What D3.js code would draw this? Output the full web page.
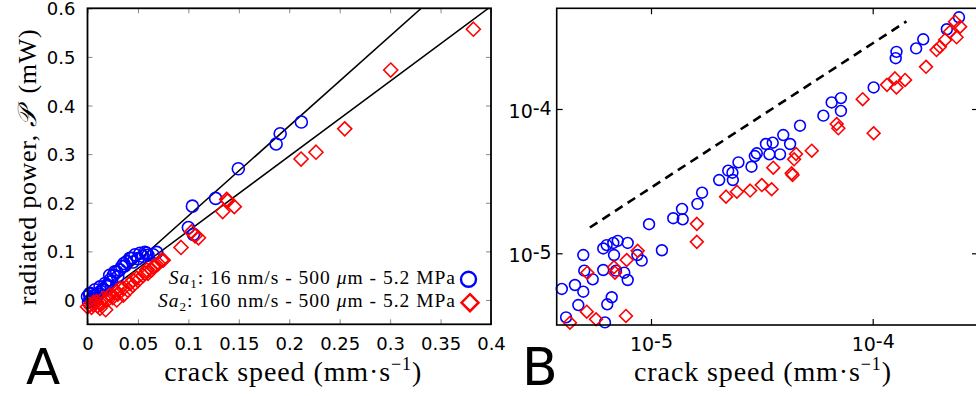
<!DOCTYPE html>
<html><head><meta charset="utf-8">
<script src="https://cdn.jsdelivr.net/npm/d3@7"></script>
<style>
html,body{margin:0;padding:0;background:#fff;}
svg{display:block;}
text{white-space:pre;}
.serif{font-family:"Liberation Serif","Times New Roman",serif;}
.sans{font-family:"DejaVu Sans",sans-serif;}
</style></head>
<body>
<svg id="chart" width="976" height="396"></svg>
<script>
// ---------- Panel A data (crack speed mm/s, radiated power mW) ----------
const sa1SpeedA = [0.001,0.0,0.0025,0.0074,0.0124,0.0173,0.0223,0.0256,0.029,0.034,0.0389,0.0421,0.0471,0.052,0.0587,0.065,0.0686,0.057,0.0438,0.037,0.027,0.022,0.004,0.008,0.015,0.019,
  0.003,0.005,0.006,0.01,0.013,0.016,0.02,0.024,0.03,0.032,0.036,0.045,0.05,0.055,0.06,0.002,0.009,
  0.1,0.104,0.105,0.127,0.1495,0.187,0.191,0.212];
const sa1PowerA = [-0.004,0.007,0.014,0.021,0.027,0.034,0.041,0.051,0.058,0.069,0.079,0.086,0.093,0.096,0.096,0.093,0.098,0.098,0.086,0.07,0.058,0.051,0.0,0.01,0.02,0.03,
  0.0,0.003,0.008,0.012,0.018,0.022,0.03,0.038,0.048,0.062,0.075,0.078,0.085,0.09,0.092,0.012,0.005,
  0.149,0.193,0.135,0.209,0.27,0.321,0.342,0.366];
const sa2SpeedA = [0.0,0.0025,0.009,0.0157,0.0223,0.029,0.0355,0.0421,0.0488,0.057,0.0636,0.0702,0.0751,0.0735,0.0686,0.0587,0.045,0.032,0.022,0.0355,0.029,0.0124,0.0058,
  0.004,0.006,0.01,0.014,0.018,0.02,0.025,0.03,0.04,0.045,0.05,0.055,0.06,0.065,
  0.0927,0.103,0.1066,0.11,0.134,0.139,0.1455,0.138,0.2117,0.2265,0.255,0.3006,0.3825];
const sa2PowerA = [-0.014,-0.01,-0.0035,0.0035,0.01,0.017,0.024,0.034,0.045,0.055,0.062,0.075,0.082,0.082,0.072,0.062,0.041,0.024,0.01,0.01,0.0,-0.017,-0.01,
  -0.015,-0.005,-0.012,-0.008,-0.02,0.0,0.005,0.012,0.02,0.03,0.04,0.05,0.055,0.068,
  0.108,0.14,0.132,0.128,0.182,0.204,0.192,0.207,0.29,0.304,0.352,0.473,0.557];
const fitSlopes = [1.85, 1.54];
const fitIntercept = -0.012;
const xTicksA = [0,0.05,0.1,0.15,0.2,0.25,0.3,0.35,0.4];
const xTickLabelsA = ["0","0.05","0.1","0.15","0.2","0.25","0.3","0.35","0.4"];
const yTicksA = [0,0.1,0.2,0.3,0.4,0.5,0.6];
const yTickLabelsA = ["0","0.1","0.2","0.3","0.4","0.5","0.6"];
const legendLabels = [
  {name:"Sa", sub:"1", rest:": 16 nm/s - 500 ", mu:"\u03bc", tail:"m - 5.2 MPa"},
  {name:"Sa", sub:"2", rest:": 160 nm/s - 500 ", mu:"\u03bc", tail:"m - 5.2 MPa"}
];

// ---------- Panel B data (log-log) ----------
const sa1SpeedB = [2.45e-4,2.16e-4,1.69e-4,1.57e-4,1.28e-4,1.27e-4,1.01e-4,7.19e-5,6.53e-5,7.19e-5,5.99e-5,4.70e-5,3.95e-5,4.24e-5,3.54e-5,3.30e-5,3.42e-5,3.82e-5,3.00e-5,2.94e-5,2.48e-5,2.84e-5,2.23e-5,2.33e-5,2.34e-5,2.03e-5,1.70e-5,1.62e-5,1.38e-5,1.26e-5,1.39e-5,9.8e-6,1.12e-5,7.85e-6,7.08e-6,6.76e-6,6.31e-6,6.09e-6,6.81e-6,8.68e-6,9.08e-6,4.95e-6,6.09e-6,5.00e-6,5.46e-6,6.95e-6,7.58e-6,7.85e-6,4.54e-6,3.96e-6,4.95e-6,6.65e-6,6.35e-6,4.70e-6,4.14e-6,6.20e-6];
const sa1PowerB = [4.32e-4,3.57e-4,3.04e-4,2.63e-4,2.49e-4,2.25e-4,1.41e-4,1.19e-4,1.11e-4,9.69e-5,8.99e-5,7.66e-5,6.60e-5,5.72e-5,5.84e-5,5.72e-5,4.85e-5,4.85e-5,4.93e-5,4.72e-5,4.27e-5,3.98e-5,3.74e-5,3.62e-5,3.22e-5,3.22e-5,2.63e-5,2.20e-5,2.03e-5,1.75e-5,1.72e-5,1.59e-5,1.05e-5,1.18e-5,1.22e-5,1.18e-5,1.14e-5,1.08e-5,9.73e-6,9.73e-6,8.89e-6,9.73e-6,7.66e-6,7.58e-6,6.60e-6,7.58e-6,7.34e-6,6.53e-6,6.03e-6,5.66e-6,5.42e-6,4.96e-6,4.43e-6,4.38e-6,3.60e-6,3.32e-6];
const sa2SpeedB = [2.48e-4,2.35e-4,2.23e-4,2.39e-4,2.12e-4,2.01e-4,1.94e-4,1.74e-4,1.40e-4,1.26e-4,1.16e-4,1.28e-4,9.01e-5,6.88e-5,7.00e-5,1.01e-4,5.31e-5,4.51e-5,4.42e-5,4.31e-5,4.35e-5,3.56e-5,3.50e-5,3.16e-5,2.80e-5,2.44e-5,2.18e-5,1.61e-5,1.61e-5,8.71e-6,7.77e-6,6.81e-6,6.88e-6,5.16e-6,5.13e-6,5.65e-6,7.71e-6,4.31e-6];
const sa2PowerB = [3.72e-4,4.03e-4,3.43e-4,3.14e-4,3.01e-4,2.70e-4,2.56e-4,1.96e-4,1.59e-4,1.63e-4,1.47e-4,1.41e-4,1.17e-4,7.87e-5,7.35e-5,6.79e-5,5.14e-5,4.88e-5,4.48e-5,3.58e-5,3.49e-5,3.92e-5,2.78e-5,2.97e-5,2.72e-5,2.67e-5,2.47e-5,1.60e-5,1.20e-5,1.04e-5,8.99e-6,8.00e-6,7.34e-6,7.34e-6,3.94e-6,3.49e-6,3.68e-6,3.30e-6];
const guideSpeedB = [5.3e-6, 1.42e-4];
const guidePowerB = [1.51e-5, 4.05e-4];
const xTicksB = [1e-5, 1e-4];
const yTicksB = [1e-5, 1e-4];
const panelLetters = ["A","B"];
const xLabelText = "crack speed (mm\u00b7s";
const yLabelText = "radiated power, ";

const svg = d3.select("#chart");
const blue = "#0000ff", red = "#ff0000";

// ================= PANEL A =================
const A = {l:87.5, r:491, t:8.3, b:324.3};
const xA = d3.scaleLinear().domain([0,0.4]).range([A.l,A.r]);
const yA = d3.scaleLinear().domain([-0.05,0.6]).range([A.b,A.t]);
const gA = svg.append("g");

const tickCol = "#888", tl = 5;
gA.append("g").attr("transform",`translate(0,${A.b})`)
  .call(d3.axisBottom(xA).tickValues(xTicksA).tickSize(-tl).tickFormat((d,i)=>xTickLabelsA[i]).tickPadding(12))
  .call(g=>{g.select(".domain").remove(); g.selectAll("line").attr("stroke",tickCol);
    g.selectAll("text").attr("class","sans").attr("font-size",18).attr("fill","#000").attr("dy","0.75em");});
gA.append("g").attr("transform",`translate(0,${A.t})`)
  .call(d3.axisTop(xA).tickValues(xTicksA).tickSize(-tl).tickFormat(""))
  .call(g=>{g.select(".domain").remove(); g.selectAll("line").attr("stroke",tickCol);});
gA.append("g").attr("transform",`translate(${A.l},0)`)
  .call(d3.axisLeft(yA).tickValues(yTicksA).tickSize(-tl).tickFormat((d,i)=>yTickLabelsA[i]).tickPadding(12))
  .call(g=>{g.select(".domain").remove(); g.selectAll("line").attr("stroke",tickCol);
    g.selectAll("text").attr("class","sans").attr("font-size",18).attr("fill","#000").attr("dy","0.36em");});
gA.append("g").attr("transform",`translate(${A.r},0)`)
  .call(d3.axisRight(yA).tickValues(yTicksA).tickSize(-tl).tickFormat(""))
  .call(g=>{g.select(".domain").remove(); g.selectAll("line").attr("stroke",tickCol);});

svg.append("clipPath").attr("id","clipA").append("rect")
  .attr("x",A.l).attr("y",A.t).attr("width",A.r-A.l).attr("height",A.b-A.t);

const lineGen = d3.line().x(d=>xA(d[0])).y(d=>yA(d[1]));
fitSlopes.forEach(s=>{
  const x0 = 0.002, x1 = 0.4;
  gA.append("path").attr("clip-path","url(#clipA)")
    .attr("d", lineGen([[x0, s*x0+fitIntercept],[x1, s*x1+fitIntercept]]))
    .attr("stroke","#000").attr("stroke-width",1.5).attr("fill","none");
});

const diamond = (cx,cy,h)=>`M${cx},${cy-h}L${cx+h},${cy}L${cx},${cy+h}L${cx-h},${cy}Z`;

gA.selectAll("circle.sa1").data(sa1SpeedA.map((v,i)=>[v,sa1PowerA[i]])).enter()
  .append("circle").attr("cx",d=>xA(d[0])).attr("cy",d=>yA(d[1])).attr("r",6)
  .attr("fill","none").attr("stroke",blue).attr("stroke-width",1.6);
gA.selectAll("path.sa2").data(sa2SpeedA.map((v,i)=>[v,sa2PowerA[i]])).enter()
  .append("path").attr("d",d=>diamond(xA(d[0]),yA(d[1]),7))
  .attr("fill","none").attr("stroke",red).attr("stroke-width",1.6);

gA.append("rect").attr("x",A.l).attr("y",A.t).attr("width",A.r-A.l).attr("height",A.b-A.t)
  .attr("fill","none").attr("stroke","#000").attr("stroke-width",1.8);

// legend
const legY = [284.3, 306.7];
legendLabels.forEach((L,i)=>{
  const t = gA.append("text").attr("class","serif").attr("x",456).attr("y",legY[i])
    .attr("text-anchor","end").attr("font-size",19.5).attr("letter-spacing",1.0).attr("fill","#000");
  t.append("tspan").attr("font-style","italic").text(L.name);
  t.append("tspan").attr("font-size",13).attr("dy",4).text(L.sub);
  t.append("tspan").attr("dy",-4).text(L.rest);
  t.append("tspan").attr("font-style","italic").text(L.mu);
  t.append("tspan").text(L.tail);
});
gA.append("circle").attr("cx",468.5).attr("cy",279.3).attr("r",7.5)
  .attr("fill","none").attr("stroke",blue).attr("stroke-width",2.4);
gA.append("path").attr("d",diamond(470,302.7,8.5))
  .attr("fill","none").attr("stroke",red).attr("stroke-width",2.4);

// axis labels A
const xl = gA.append("text").attr("class","serif").attr("x",(A.l+A.r)/2+4).attr("y",381)
  .attr("text-anchor","middle").attr("font-size",28).attr("letter-spacing",0.9).attr("fill","#000");
xl.append("tspan").text(xLabelText);
xl.append("tspan").attr("font-size",18).attr("dy",-11).text("\u22121");
xl.append("tspan").attr("dy",11).text(")");

const yl = gA.append("text").attr("class","serif").attr("transform","translate(36,167) rotate(-90)")
  .attr("text-anchor","middle").attr("font-size",26).attr("letter-spacing",0.7).attr("fill","#000");
yl.append("tspan").text(yLabelText);
yl.append("tspan").attr("font-style","italic").attr("font-family","DejaVu Serif, serif").text("\ud835\udcab");
yl.append("tspan").text("\u2002(mW)");

svg.append("text").attr("class","sans").attr("x",26).attr("y",384).attr("font-size",50).text(panelLetters[0]);

// ================= PANEL B =================
const B = {l:556.7, r:978, t:8.3, b:325};
const xB = d3.scaleLog().domain([Math.pow(10,-5-(651-556.7)/221.7), Math.pow(10,-4+(978-872.7)/221.7)]).range([B.l,B.r]);
const yB = d3.scaleLog().domain([Math.pow(10,-5-(325-253.3)/144.3), Math.pow(10,-4+(109-8.3)/144.3)]).range([B.b,B.t]);
const gB = svg.append("g");

const expOf = d=>String(Math.round(Math.log10(d)));
const supLabel = (sel)=>{
  sel.each(function(d){
    const t = d3.select(this); t.text(null);
    t.append("tspan").text("10");
    t.append("tspan").attr("dy",-3).text(expOf(d));
  });
};
gB.append("g").attr("transform",`translate(0,${B.b})`)
  .call(d3.axisBottom(xB).tickValues(xTicksB).tickSize(-6).tickPadding(10))
  .call(g=>{g.select(".domain").remove(); g.selectAll("line").attr("stroke","#000").attr("stroke-width",1.2);
    g.selectAll("text").attr("class","sans").attr("font-size",19).attr("fill","#000").attr("dy","0.85em").call(supLabel);});
gB.append("g").attr("transform",`translate(0,${B.t})`)
  .call(d3.axisTop(xB).tickValues(xTicksB).tickSize(-6).tickFormat(""))
  .call(g=>{g.select(".domain").remove(); g.selectAll("line").attr("stroke","#000").attr("stroke-width",1.2);});
gB.append("g").attr("transform",`translate(${B.l},0)`)
  .call(d3.axisLeft(yB).tickValues(yTicksB).tickSize(-6).tickPadding(5))
  .call(g=>{g.select(".domain").remove(); g.selectAll("line").attr("stroke","#000").attr("stroke-width",1.2);
    g.selectAll("text").attr("class","sans").attr("font-size",19).attr("fill","#000").attr("dy","0.45em").call(supLabel);});
gB.append("g").attr("transform",`translate(${B.r},0)`)
  .call(d3.axisRight(yB).tickValues(yTicksB).tickSize(-6).tickFormat(""))
  .call(g=>{g.select(".domain").remove(); g.selectAll("line").attr("stroke","#000").attr("stroke-width",1.2);});

gB.append("path").attr("d", d3.line().x(d=>xB(d[0])).y(d=>yB(d[1]))(guideSpeedB.map((v,i)=>[v,guidePowerB[i]])))
  .attr("stroke","#000").attr("stroke-width",2.6).attr("stroke-dasharray","9,6").attr("fill","none");

gB.selectAll("circle.sa1").data(sa1SpeedB.map((v,i)=>[v,sa1PowerB[i]])).enter()
  .append("circle").attr("cx",d=>xB(d[0])).attr("cy",d=>yB(d[1])).attr("r",5.4)
  .attr("fill","none").attr("stroke",blue).attr("stroke-width",1.6);
gB.selectAll("path.sa2").data(sa2SpeedB.map((v,i)=>[v,sa2PowerB[i]])).enter()
  .append("path").attr("d",d=>diamond(xB(d[0]),yB(d[1]),6.4))
  .attr("fill","none").attr("stroke",red).attr("stroke-width",1.6);

gB.append("rect").attr("x",B.l).attr("y",B.t).attr("width",B.r-B.l).attr("height",B.b-B.t)
  .attr("fill","none").attr("stroke","#000").attr("stroke-width",1.6);

const xl2 = gB.append("text").attr("class","serif").attr("x",763).attr("y",381)
  .attr("text-anchor","middle").attr("font-size",28).attr("letter-spacing",0.9).attr("fill","#000");
xl2.append("tspan").text(xLabelText);
xl2.append("tspan").attr("font-size",18).attr("dy",-11).text("\u22121");
xl2.append("tspan").attr("dy",11).text(")");

svg.append("text").attr("class","sans").attr("x",522).attr("y",385).attr("font-size",52).text(panelLetters[1]);
</script>
</body></html>
